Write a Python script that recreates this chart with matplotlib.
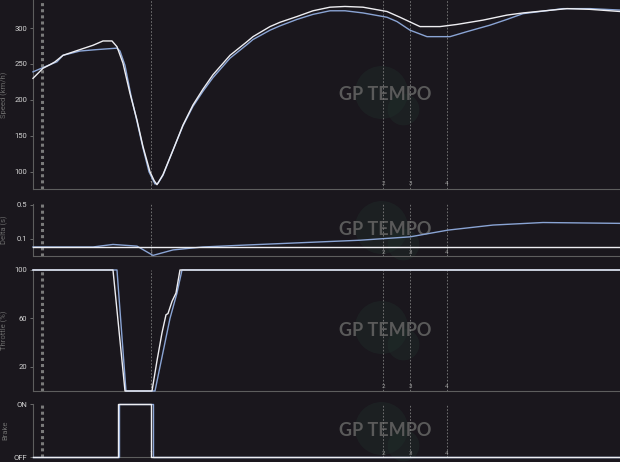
import matplotlib
matplotlib.use("Agg")
import matplotlib.pyplot as plt
import matplotlib.transforms as mtransforms

# distance along the lap (m) and telemetry for the two drivers
speed_x_a = [0, 20, 34, 44, 60, 94, 120, 140, 158, 168, 180, 194, 208, 220, 234, 242, 248, 260,
             280, 300, 320, 340, 360, 394, 428, 440, 474, 494, 528, 560, 594, 624, 660, 708, 734,
             774, 814, 848, 900, 948, 980, 1068, 1114, 1174]
speed_a = [230, 244, 249, 253, 262, 270, 276, 282, 282, 274, 251, 209, 172, 135, 100, 88, 82, 96,
           130, 165, 193, 215, 235, 262, 281, 288, 302, 308, 316, 324, 329, 330, 329, 323, 315,
           302, 302, 305, 311, 318, 321, 327, 326, 323]
speed_x_b = [0, 20, 48, 60, 94, 128, 168, 174, 184, 196, 208, 220, 232, 244, 250, 260, 280, 300,
             320, 340, 360, 394, 428, 440, 474, 494, 528, 560, 594, 624, 660, 708, 728, 754, 788,
             834, 868, 914, 948, 980, 1060, 1114, 1174]
speed_b = [239, 245, 253, 262, 268, 270, 272, 268, 248, 206, 170, 133, 100, 83, 84, 95, 130, 164,
           191, 212, 231, 258, 277, 284, 297, 303, 312, 319, 324, 324, 321, 315, 309, 297, 288,
           288, 295, 304, 312, 320, 327, 327, 325]

delta_x_a = [0, 1174]
delta_a = [0, 0]
delta_x_b = [0, 120, 160, 208, 240, 280, 340, 414, 534, 654, 754, 830, 920, 1020, 1174]
delta_b = [0, 0, 0.03, 0.01, -0.1, -0.035, 0, 0.02, 0.05, 0.08, 0.12, 0.2, 0.26, 0.29, 0.28]

thr_x_a = [0, 160, 184, 238, 248, 258, 266, 270, 278, 286, 294, 1174]
thr_a = [100, 100, 0, 0, 25, 48, 63, 64, 74, 81, 100, 100]
thr_x_b = [0, 168, 186, 244, 258, 268, 274, 284, 288, 298, 1174]
thr_b = [100, 100, 0, 0, 28, 48, 60, 75, 81, 100, 100]

brake_x_a = [0, 170, 170, 236, 236, 1174]
brake_a = [0, 0, 1, 1, 0, 0]
brake_x_b = [0, 172, 172, 240, 240, 1174]
brake_b = [0, 0, 1, 1, 0, 0]

corners = [236, 700, 754, 828]
corner_labels = ["1", "2", "3", "4"]
marker_x = 18

bg = "#1a171d"
col_a = "#eeeef2"
col_b = "#8aa4d4"

plt.rcParams["font.family"] = ["Roboto", "DejaVu Sans"]

fig = plt.figure(figsize=(6.2, 4.62), dpi=100, facecolor=bg)

rects = [
    (0.0532, 0.5909, 0.9468, 0.4091),
    (0.0532, 0.4459, 0.9468, 0.1126),
    (0.0532, 0.1537, 0.9468, 0.2619),
    (0.0532, 0.0108, 0.9468, 0.1147),
]
axes = [fig.add_axes(r) for r in rects]

panels = [
    (speed_x_a, speed_a, speed_x_b, speed_b, "Speed (km/h)", (76, 339), [100, 150, 200, 250, 300], None),
    (delta_x_a, delta_a, delta_x_b, delta_b, "Delta (s)", (-0.107, 0.51), [0.1, 0.5], None),
    (thr_x_a, thr_a, thr_x_b, thr_b, "Throttle (%)", (0, 100), [20, 60, 100], None),
    (brake_x_a, brake_a, brake_x_b, brake_b, "Brake", (0, 1), [0, 1], ["OFF", "ON"]),
]

for ax, (xa, ya, xb, yb, label, ylim, yticks, yticklabels) in zip(axes, panels):
    ax.set_facecolor(bg)

    # watermark
    t1 = mtransforms.offset_copy(ax.transAxes, fig, x=-4, y=3, units="dots")
    t2 = mtransforms.offset_copy(ax.transAxes, fig, x=18, y=-14, units="dots")
    ax.scatter([0.6], [0.5], s=1450, color="#20302c", alpha=0.4, lw=0,
               transform=t1, clip_on=False, zorder=0.5)
    ax.scatter([0.6], [0.5], s=520, color="#20302c", alpha=0.4, lw=0,
               transform=t2, clip_on=False, zorder=0.5)
    ax.text(0.6, 0.5, "GP TEMPO", transform=ax.transAxes, ha="center", va="center",
            fontsize=13, fontweight="bold", color="#5a5a5a", family=["Lato", "DejaVu Sans"],
            zorder=0.6)

    ax.axvline(marker_x, color="#7a7a7a", lw=2.2, dashes=(1, 1), zorder=1)
    for cx, cl in zip(corners, corner_labels):
        ax.axvline(cx, color="#7d7d7d", lw=0.6, dashes=(2, 2), zorder=1)
        ax.text(cx, 0.015, cl, transform=ax.get_xaxis_transform(), ha="center", va="bottom",
                fontsize=4.5, color="#9a9a9a", zorder=2)

    ax.plot(xb, yb, color=col_b, lw=1.0, zorder=3, clip_on=False)
    ax.plot(xa, ya, color=col_a, lw=1.0, zorder=4, clip_on=False)

    ax.set_xlim(0, 1174)
    ax.set_ylim(*ylim)
    ax.set_yticks(yticks)
    if yticklabels:
        ax.set_yticklabels(yticklabels)
    ax.set_xticks([])
    ax.set_ylabel(label, fontsize=5.5, color="#6a6a6a")
    ax.yaxis.set_label_coords(-0.042, 0.5)
    ax.tick_params(axis="y", labelsize=5.5, labelcolor="#d4d4d4", color="#777777",
                   length=2.5, width=0.6, pad=1.5)
    for s in ["top", "right"]:
        ax.spines[s].set_visible(False)
    for s in ["left", "bottom"]:
        ax.spines[s].set_color("#5e5e5e")
        ax.spines[s].set_linewidth(0.8)

fig.savefig("out.png", dpi=100, facecolor=bg)
